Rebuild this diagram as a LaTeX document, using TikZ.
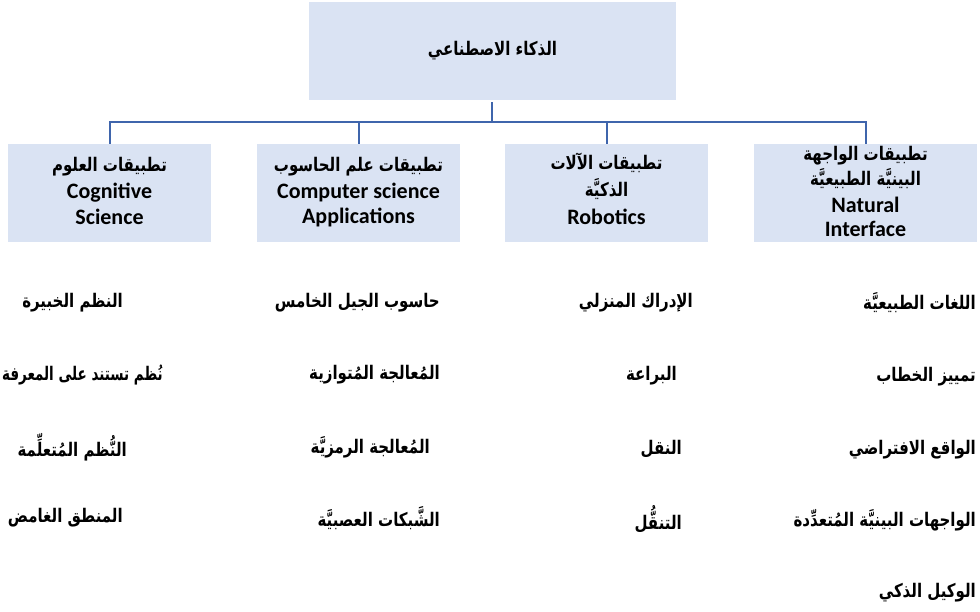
\documentclass[tikz,border=0pt]{standalone}
\usepackage{fontspec}
\usepackage{graphicx}
\TeXXeTstate=1
\newfontfamily\arfont[Script=Arabic]{DejaVu Sans}
\newfontfamily\lafont{Carlito}
\definecolor{boxfill}{HTML}{DAE3F3}
\definecolor{linkblue}{HTML}{3F65AC}
% bold Arabic, set a little taller than the font's own proportions
\newcommand{\ar}[1]{\scalebox{1}[1.25]{\arfont\bfseries\beginR #1\endR}}
% the same, slightly condensed for a long line at the left margin
\newcommand{\arnarrow}[1]{\scalebox{0.9}[1.25]{\arfont\bfseries\beginR #1\endR}}
\begin{document}
\begin{tikzpicture}[x=1pt,y=-1pt,
  catbox/.style={fill=boxfill,draw=none,minimum width=203pt,minimum height=98pt,inner sep=0pt},
  rootbox/.style={fill=boxfill,draw=none,minimum width=367pt,minimum height=98pt,
    inner sep=0pt,font=\fontsize{15}{18}\selectfont},
  arline/.style={inner sep=0pt,font=\fontsize{15}{18}\selectfont},
  laline/.style={inner sep=0pt,font=\lafont\bfseries\fontsize{22}{24}\selectfont},
  item/.style={anchor=east,inner sep=0pt,font=\fontsize{15}{18}\selectfont},
  link/.style={draw=linkblue,line width=2pt}]
\useasboundingbox (0,0) rectangle (980,611);

% root
\node[rootbox] (root) at (492.5,51) {\ar{الذكاء الاصطناعي}};

% four branch boxes
\node[catbox] (cog) at (109.5,193) {};
\node[catbox] (cs) at (358.5,193) {};
\node[catbox] (rob) at (606.5,193) {};
\node[catbox,minimum width=223pt] (nat) at (865.5,193) {};

% branch titles
\node[arline] (cogA) at (109.5,167) {\ar{تطبيقات العلوم}};
\node[laline] (cogB) at (109.5,193) {Cognitive};
\node[laline] (cogC) at (109.5,217) {Science};
\node[arline] (csA) at (358.5,167) {\ar{تطبيقات علم الحاسوب}};
\node[laline] (csB) at (358.5,193) {Computer science};
\node[laline] (csC) at (358.5,217) {Applications};
\node[arline] (robA) at (606.5,163) {\ar{تطبيقات الآلات}};
\node[arline] (robB) at (606.5,189) {\ar{الذكيَّة}};
\node[laline] (robC) at (606.5,217) {Robotics};
\node[arline] (natA) at (865.5,156) {\ar{تطبيقات الواجهة}};
\node[arline] (natB) at (865.5,179) {\ar{البينيَّة الطبيعيَّة}};
\node[laline] (natC) at (865.5,205) {Natural};
\node[laline] (natD) at (865.5,229) {Interface};

% tree connectors
\coordinate (hub) at (492,122);
\draw[link] (root.south -| hub) ++(0,2) -- (hub);
\draw[link] (cog.north) -- (cog.north |- hub) -- (nat.north |- hub) -- (nat.north);
\draw[link] (cs.north |- hub) -- (cs.north);
\draw[link] (rob.north |- hub) -- (rob.north);

% items under Cognitive Science
\node[item] (c1) at (123,303) {\ar{النظم الخبيرة}};
\node[item] (c2) at (163,375) {\arnarrow{نُظم تستند على المعرفة}};
\node[item] (c3) at (127,447) {\ar{النُّظم المُتعلِّمة}};
\node[item] (c4) at (123,518) {\ar{المنطق الغامض}};

% items under Computer science
\node[item] (s1) at (440,303) {\ar{حاسوب الجيل الخامس}};
\node[item] (s2) at (440,375) {\ar{المُعالجة المُتوازية}};
\node[item] (s3) at (430,447) {\ar{المُعالجة الرمزيَّة}};
\node[item] (s4) at (440,518) {\ar{الشَّبكات العصبيَّة}};

% items under Robotics
\node[item] (r1) at (693,303) {\ar{الإدراك المنزلي}};
\node[item] (r2) at (677,376) {\ar{البراعة}};
\node[item] (r3) at (682,449) {\ar{النقل}};
\node[item] (r4) at (682,519) {\ar{التنقُّل}};

% items under Natural Interface
\node[item] (n1) at (976,303) {\ar{اللغات الطبيعيَّة}};
\node[item] (n2) at (976,377) {\ar{تمييز الخطاب}};
\node[item] (n3) at (976,450) {\ar{الواقع الافتراضي}};
\node[item] (n4) at (976,520) {\ar{الواجهات البينيَّة المُتعدِّدة}};
\node[item] (n5) at (976,593) {\ar{الوكيل الذكي}};
\end{tikzpicture}
\end{document}
